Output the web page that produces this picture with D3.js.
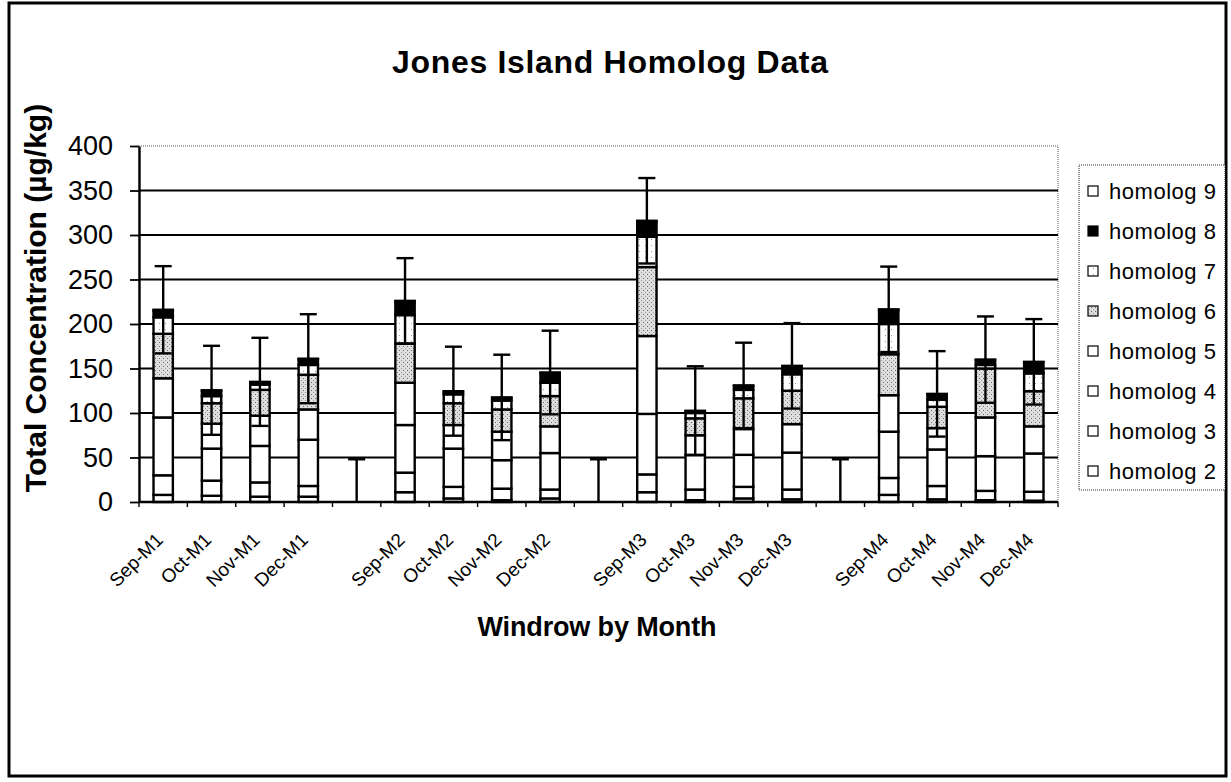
<!DOCTYPE html>
<html>
<head>
<meta charset="utf-8">
<script src="https://cdn.jsdelivr.net/npm/d3@7"></script>
<style>
body { margin: 0; background: #fff; }
svg { display: block; font-family: Arial, "Liberation Sans", sans-serif; }
</style>
</head>
<body>
<svg class="chart-container" width="1231" height="782"></svg>
<script>
// values (blank entries are the gaps between windrows)
const categories = ['Sep-M1', 'Oct-M1', 'Nov-M1', 'Dec-M1', '',
	'Sep-M2', 'Oct-M2', 'Nov-M2', 'Dec-M2', '',
	'Sep-M3', 'Oct-M3', 'Nov-M3', 'Dec-M3', '',
	'Sep-M4', 'Oct-M4', 'Nov-M4', 'Dec-M4'];
const homolog2 = [8, 7, 6, 6, 0, 11, 4, 2, 4, 0, 11, 2, 4, 3, 0, 8, 3, 2, 1.5];
const homolog3 = [22, 17, 16, 12, 0, 22, 13, 13, 10, 0, 20, 12, 13, 11, 0, 19, 15, 10.5, 10];
const homolog4 = [65, 36, 41, 52, 0, 53.5, 43, 32, 41, 0, 68, 39, 36, 41.5, 0, 52, 41, 39, 43];
const homolog5 = [44, 28, 34, 34, 0, 47.5, 26.5, 32, 30, 0, 87.5, 22, 29, 32, 0, 41, 24, 43.5, 30.5];
const homolog6 = [50, 23, 29, 39, 0, 44, 24.5, 25, 34, 0, 77.5, 19, 34.5, 37.5, 0, 46, 24, 55, 39.5];
const homolog7 = [18.5, 8, 6, 11, 0, 32, 10, 10, 15, 0, 34, 6, 9.5, 18.5, 0, 34, 8, 4, 20];
const homolog8 = [7.5, 6, 2.5, 6.5, 0, 15, 3, 3, 11, 0, 17, 2, 4.5, 9, 0, 15.5, 6, 5.5, 12.5];
const homolog9 = [1, 0.5, 0.5, 0.5, 0, 1, 0.5, 0.5, 0.5, 0, 1, 0.5, 0.5, 0.5, 0, 1, 0.5, 0.5, 0.5];
const stdDev = [49, 50, 49.5, 50, 48, 48, 50, 48, 47, 48, 48, 50, 48, 48, 48, 48, 48, 48.5, 48];
const yTicks = [0, 50, 100, 150, 200, 250, 300, 350, 400];
const seriesKeys = ['h2', 'h3', 'h4', 'h5', 'h6', 'h7', 'h8', 'h9'];
const seriesNames = ['homolog 2', 'homolog 3', 'homolog 4', 'homolog 5', 'homolog 6', 'homolog 7', 'homolog 8', 'homolog 9'];

// margin conventions
const margin = { top: 146, right: 173, bottom: 280, left: 139 };
const width = 1231 - margin.left - margin.right;
const height = 782 - margin.top - margin.bottom;

const rows = categories.map((c, i) => ({
	h2: homolog2[i], h3: homolog3[i], h4: homolog4[i], h5: homolog5[i],
	h6: homolog6[i], h7: homolog7[i], h8: homolog8[i], h9: homolog9[i]
}));
const totals = rows.map((r) => seriesKeys.reduce((s, k) => s + r[k], 0));

const x = d3.scaleBand().domain(d3.range(categories.length)).range([0, width]).paddingInner(0.6).paddingOuter(0.3);
const y = d3.scaleLinear().domain([0, 400]).range([height, 0]);

const svg = d3.select('.chart-container');

// fill patterns for the scanned hatches
const defs = svg.append('defs');
const stipple = defs.append('pattern').attr('id', 'stipple').attr('width', 4).attr('height', 4).attr('patternUnits', 'userSpaceOnUse');
stipple.append('rect').attr('width', 4).attr('height', 4).attr('fill', '#dedede');
stipple.append('rect').attr('x', 0).attr('y', 0).attr('width', 1).attr('height', 1).attr('fill', '#666');
stipple.append('rect').attr('x', 2).attr('y', 2).attr('width', 1).attr('height', 1).attr('fill', '#999');
const sparse = defs.append('pattern').attr('id', 'sparse').attr('width', 6).attr('height', 6).attr('patternUnits', 'userSpaceOnUse');
sparse.append('rect').attr('width', 6).attr('height', 6).attr('fill', '#fff');
sparse.append('rect').attr('x', 2).attr('y', 3).attr('width', 1).attr('height', 1).attr('fill', '#999');

const fills = { h2: '#fff', h3: '#fff', h4: '#fff', h5: '#fff', h6: 'url(#stipple)', h7: 'url(#sparse)', h8: '#000', h9: '#fff' };

// outer frame
svg.append('rect').attr('x', 9).attr('y', 3).attr('width', 1217).attr('height', 773)
	.attr('fill', 'none').attr('stroke', '#000').attr('stroke-width', 3);

svg.append('text').attr('x', 610).attr('y', 73).attr('text-anchor', 'middle')
	.attr('font-size', 32).attr('font-weight', 'bold').attr('textLength', 436)
	.text('Jones Island Homolog Data');

const g = svg.append('g').attr('transform', 'translate(' + margin.left + ',' + margin.top + ')');

// plot area border and gridlines
g.append('rect').attr('width', width).attr('height', height).attr('fill', 'none')
	.attr('stroke', '#555').attr('stroke-dasharray', '1,1');
g.append('g').selectAll('line').data(yTicks.filter((d) => d > 0 && d < 400)).enter().append('line')
	.attr('x1', 0).attr('x2', width).attr('y1', (d) => y(d)).attr('y2', (d) => y(d))
	.attr('stroke', '#000').attr('stroke-width', 1.8);

// stacked bars
const stacked = d3.stack().keys(seriesKeys)(rows);
g.append('g').selectAll('g').data(stacked).enter().append('g')
	.attr('fill', (d) => fills[d.key])
	.selectAll('rect').data((d) => d.filter((p, i) => categories[i] !== '').map((p) => ({ p: p, i: rows.indexOf(p.data) })))
	.enter().append('rect')
	.attr('x', (d) => x(d.i))
	.attr('width', x.bandwidth())
	.attr('y', (d) => y(d.p[1]))
	.attr('height', (d) => y(d.p[0]) - y(d.p[1]))
	.attr('stroke', '#000').attr('stroke-width', 2.4);

// error bars
const capW = 17;
const errG = g.append('g').attr('stroke', '#000').attr('stroke-width', 2.4);
categories.forEach((c, i) => {
	const cx = x(i) + x.bandwidth() / 2;
	const hi = totals[i] + stdDev[i];
	const lo = Math.max(0, totals[i] - stdDev[i]);
	errG.append('line').attr('x1', cx).attr('x2', cx).attr('y1', y(hi)).attr('y2', y(lo));
	errG.append('line').attr('x1', cx - capW / 2).attr('x2', cx + capW / 2).attr('y1', y(hi)).attr('y2', y(hi));
	if (lo > 0) {
		errG.append('line').attr('x1', cx - capW / 2).attr('x2', cx + capW / 2).attr('y1', y(lo)).attr('y2', y(lo));
	}
});

// y axis
const yAxis = g.append('g').call(d3.axisLeft(y).tickValues(yTicks).tickSize(9).tickSizeOuter(0).tickPadding(17));
yAxis.select('.domain').attr('stroke-width', 2.4);
yAxis.selectAll('.tick line').attr('stroke-width', 1.8);
yAxis.selectAll('text').attr('font-size', 27).attr('font-family', 'Arial, "Liberation Sans", sans-serif').attr('fill', '#000');

// x axis with ticks on the category boundaries
g.append('line').attr('x1', 0).attr('x2', width).attr('y1', height).attr('y2', height)
	.attr('stroke', '#000').attr('stroke-width', 2.4);
g.append('g').selectAll('line').data(d3.range(categories.length + 1)).enter().append('line')
	.attr('x1', (d) => d * x.step()).attr('x2', (d) => d * x.step())
	.attr('y1', height).attr('y2', height + 5)
	.attr('stroke', '#000').attr('stroke-width', 1.4);
g.append('g').selectAll('text').data(categories).enter().append('text')
	.attr('transform', (d, i) => 'translate(' + (x(i) + x.bandwidth() / 2 + 1) + ',' + (height + 39) + ') rotate(-45)')
	.attr('text-anchor', 'end').attr('font-size', 19)
	.text((d) => d);

svg.append('text').attr('x', 597).attr('y', 636).attr('text-anchor', 'middle')
	.attr('font-size', 27).attr('font-weight', 'bold').attr('textLength', 239)
	.text('Windrow by Month');

svg.append('text').attr('transform', 'translate(46,298) rotate(-90)').attr('text-anchor', 'middle')
	.attr('font-size', 30).attr('font-weight', 'bold')
	.text('Total Concentration (µg/kg)');

// legend, top entry is the last series
const legend = svg.append('g').attr('transform', 'translate(1079,165)');
legend.append('rect').attr('width', 146).attr('height', 325).attr('fill', '#fff')
	.attr('stroke', '#333').attr('stroke-dasharray', '1,1');
const legendKeys = seriesKeys.slice().reverse();
const item = legend.selectAll('.item').data(legendKeys).enter().append('g')
	.attr('class', 'item')
	.attr('transform', (d, i) => 'translate(0,' + (26 + i * 40) + ')');
item.append('rect').attr('x', 9).attr('y', -5).attr('width', 10).attr('height', 10)
	.attr('fill', (d) => fills[d]).attr('stroke', '#000').attr('stroke-width', 1.2);
item.append('text').attr('x', 30).attr('y', 8).attr('font-size', 22).attr('textLength', 107)
	.text((d) => seriesNames[seriesKeys.indexOf(d)]);
</script>
</body>
</html>
